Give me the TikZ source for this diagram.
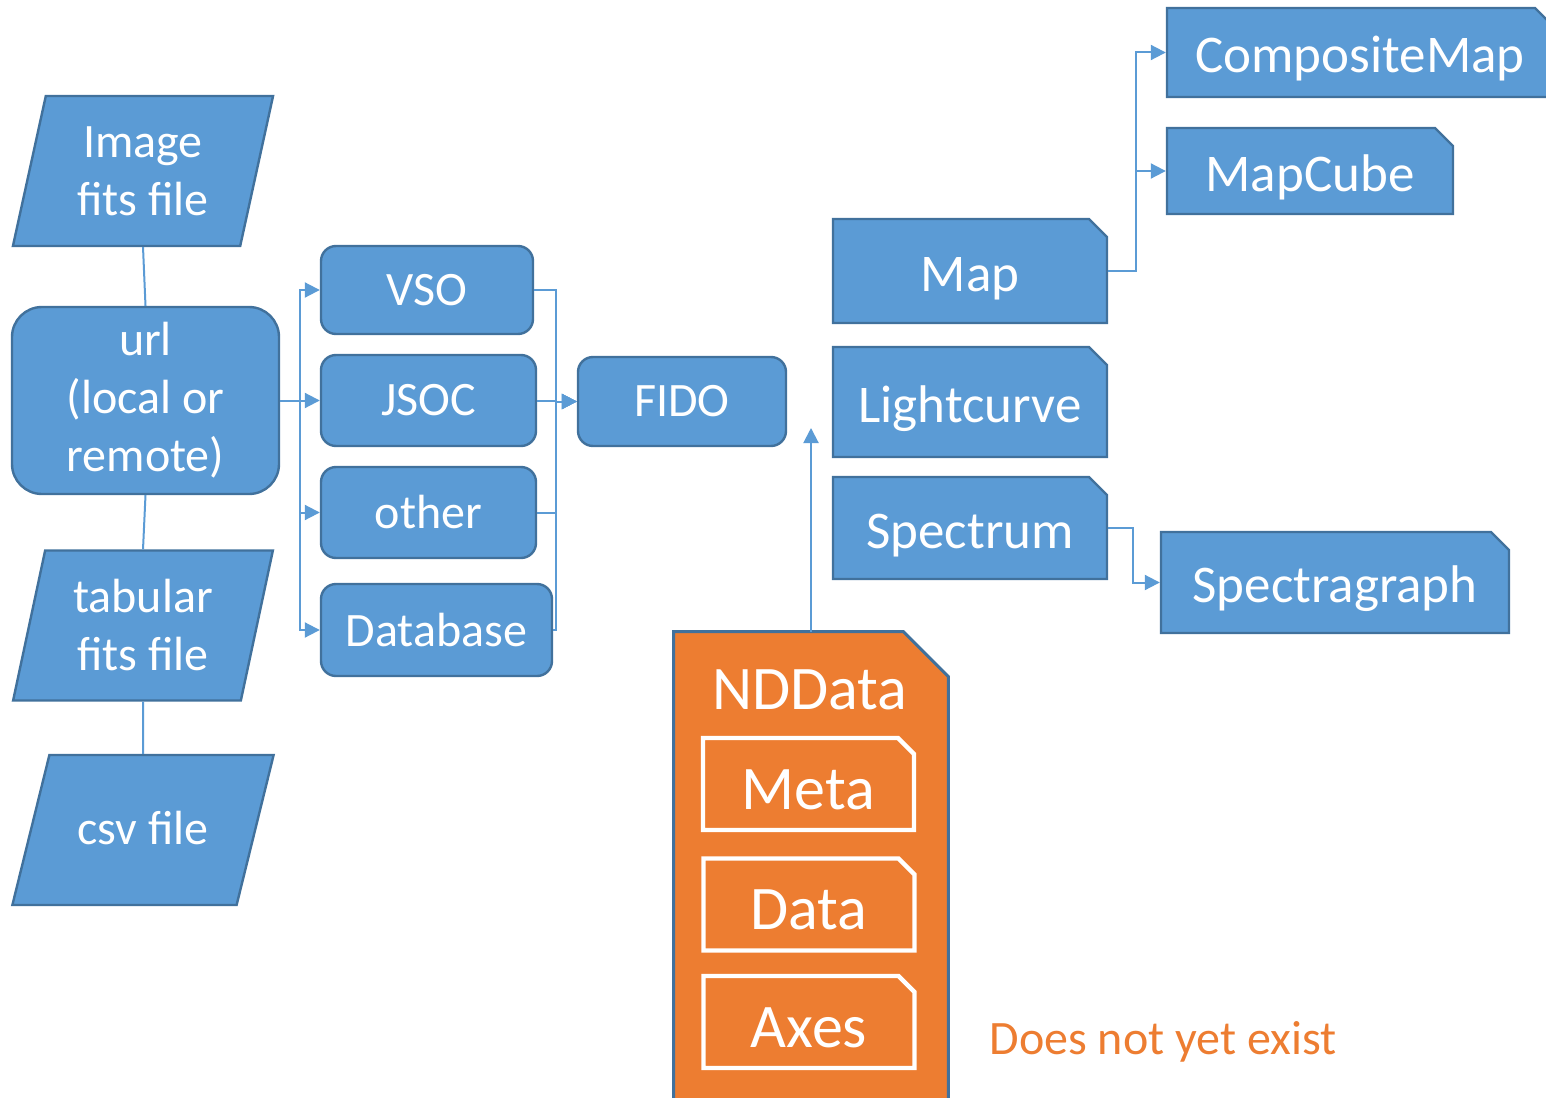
\documentclass[tikz,border=0pt]{standalone}
\usepackage{fontspec}
\setmainfont{Carlito}
\usetikzlibrary{shapes.geometric,shapes.misc,arrows.meta}
\definecolor{boxblue}{HTML}{5B9BD5}
\definecolor{edgeblue}{HTML}{41719C}
\definecolor{ndorange}{HTML}{ED7D31}
\begin{document}
\begin{tikzpicture}[x=0.5pt,y=-0.5pt,
    font=\fontsize{24}{29}\selectfont,
    base/.style={draw=edgeblue,fill=boxblue,text=white,line width=1.2pt,inner sep=0pt,align=center},
    filebox/.style={base,trapezium,trapezium left angle=76,trapezium right angle=104,
        trapezium stretches=true,minimum width=131pt,minimum height=75pt},
    roundbox/.style={base,rectangle,rounded corners=7.5pt},
    snipbox/.style={base,chamfered rectangle,chamfered rectangle corners=north east,
        chamfered rectangle xsep=4.5pt,chamfered rectangle ysep=4.5pt,
        text height=25pt,text depth=5pt,font=\fontsize{26.5}{32}\selectfont},
    partbox/.style={draw=white,fill=none,text=white,line width=2.2pt,inner sep=0pt,
        chamfered rectangle,chamfered rectangle corners=north east,
        chamfered rectangle xsep=4pt,chamfered rectangle ysep=4pt,
        text height=25pt,text depth=0pt,
        minimum width=105.5pt,minimum height=46pt,font=\fontsize{31}{37}\selectfont},
    link/.style={boxblue,line width=1pt},
    arr/.style={link,-{Triangle[length=7.5pt,width=7.5pt]}}]
\useasboundingbox (0,0) rectangle (1546,1097);

% input files
\node[filebox] (img) at (143,171) {Image\\fits file};
\node[roundbox,rounded corners=15pt,minimum width=133.5pt,minimum height=93.5pt] (url) at (145.5,400.5) {url\\(local or\\remote)};
\node[filebox] (tab) at (143,625.5) {tabular\\fits file};
\node[filebox,text height=33pt,text depth=19pt] (csv) at (143,830) {csv file};
\draw[link] (img.south) -- (url.north);
\draw[link] (url.south) -- (tab.north);
\draw[link] (tab.south) -- (csv.north);

% sources and FIDO
\node[roundbox,minimum width=106pt,minimum height=44pt] (vso) at (427,290) {VSO};
\node[roundbox,minimum width=107.5pt,minimum height=45.5pt] (jsoc) at (428.5,400.5) {JSOC};
\node[roundbox,minimum width=107.5pt,minimum height=45.5pt] (other) at (428.5,512.5) {other};
\node[roundbox,minimum width=115.5pt,minimum height=46pt] (db) at (436.5,630) {Database};
\node[roundbox,minimum width=104pt,minimum height=44.5pt] (fido) at (682,401.5) {FIDO};
\coordinate (lbus) at (300,0);
\coordinate (rbus) at (556,0);
\foreach \s in {vso,jsoc,other,db} {
    \draw[arr] (url.east) -- (lbus |- url.east) |- (\s.west);
    \draw[arr] (\s.east) -- (rbus |- \s.east) |- (fido.west);
}

% data classes
\node[snipbox,minimum width=137pt,minimum height=52pt] (map) at (970,271) {Map};
\node[snipbox,minimum width=137pt,minimum height=55pt] (lc) at (970,402) {Lightcurve};
\node[snipbox,minimum width=137pt,minimum height=51pt] (spec) at (970,528) {Spectrum};
\node[snipbox,minimum width=193pt,minimum height=44.5pt] (cmap) at (1360,52.5) {CompositeMap};
\node[snipbox,minimum width=143pt,minimum height=43pt] (mcube) at (1310,171) {MapCube};
\node[snipbox,minimum width=174pt,minimum height=50.5pt] (sgraph) at (1335,582.5) {Spectragraph};
\coordinate (mbus) at (1136,0);
\coordinate (sbus) at (1133,0);
\draw[arr] (map.east) -- (mbus |- map.east) |- (cmap.west);
\draw[arr] (map.east) -- (mbus |- map.east) |- (mcube.west);
\draw[arr] (spec.east) -- (sbus |- spec.east) |- (sgraph.west);

% NDData and its parts
\node[minimum width=137pt,minimum height=244pt,inner sep=0pt] (nd) at (811,876) {};
\filldraw[fill=ndorange,draw=edgeblue,line width=1.5pt] (nd.south west) -- (nd.north west)
    -- ([xshift=-22.5pt]nd.north east) -- ([yshift=-22.5pt]nd.north east) -- (nd.south east) -- cycle;
\node[text=white,font=\fontsize{31}{37}\selectfont] (ndtitle) at (810,690) {NDData};
\node[partbox] (meta) at (808.5,784) {Meta};
\node[partbox] (data) at (809,904.5) {Data};
\node[partbox] (axes) at (809,1022) {Axes};
\coordinate (ndin) at (811,428);
\draw[arr] (nd.north) -- (ndin);

\node[text=ndorange] (note) at (1163,1042) {Does not yet exist};
\end{tikzpicture}
\end{document}
